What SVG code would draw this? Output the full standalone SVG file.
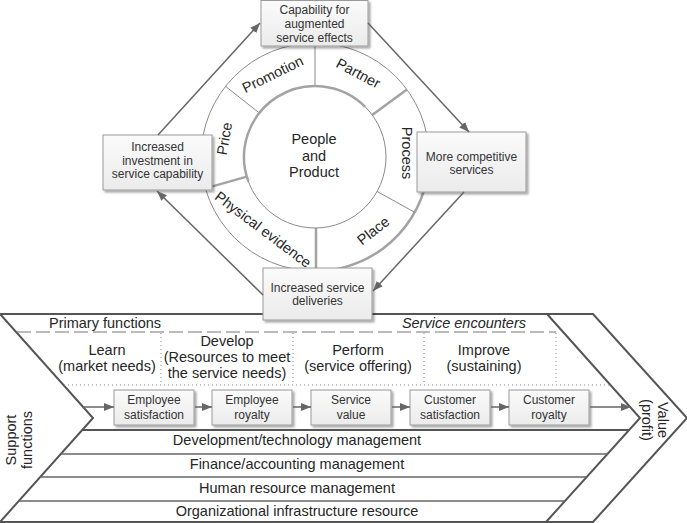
<svg xmlns="http://www.w3.org/2000/svg" width="687" height="523" viewBox="0 0 687 523">
<defs>
<style>
text { font-family: "Liberation Sans", Arial, sans-serif; fill: #262626; }
.bx { font-size: 12px; text-anchor: middle; fill: #333; }
.lg { font-size: 14.5px; text-anchor: middle; }
.box { fill: url(#g); stroke: #9a9a9a; stroke-width: 1; filter: url(#sh); }
.conn { stroke: #666; stroke-width: 1.5; fill: none; marker-end: url(#ah); }
.ring { stroke: #8a8a8a; stroke-width: 1; }
.thin { stroke: #8a8a8a; stroke-width: 1; fill: none; }
.thick { stroke: #a3a3a3; stroke-width: 2.5; fill: none; }
.ch { fill: none; stroke: #555; stroke-width: 2; }
.band { stroke: #666; stroke-width: 1.4; }
.dash { stroke: #777; stroke-width: 1.2; stroke-dasharray: 14 5; }
.dot { stroke: #888; stroke-width: 1; stroke-dasharray: 1 3; }
</style>
<linearGradient id="g" x1="0" y1="0" x2="0" y2="1"><stop offset="0" stop-color="#fbfbfb"/><stop offset="1" stop-color="#ebebeb"/></linearGradient>
<filter id="sh" x="-10%" y="-10%" width="130%" height="140%"><feDropShadow dx="2" dy="2" stdDeviation="1" flood-color="#000" flood-opacity="0.35"/></filter>
<marker id="ah" markerWidth="10" markerHeight="8" refX="10" refY="4" orient="auto" markerUnits="userSpaceOnUse"><path d="M0,0 L10,4 L0,8 z" fill="#666"/></marker>
</defs>

<g id="value-chain">
<path class="ch" d="M0,314 L593,314 L687,418 L593,522 L0,522"/>
<path class="ch" d="M0,314 L93,418 L0,522"/>
<path class="ch" d="M547,314 L640,418 L546,522"/>
<line class="ch" x1="82.3" y1="430" x2="629.2" y2="430"/>
<line class="band" x1="60.8" y1="454" x2="607.5" y2="454"/>
<line class="band" x1="40.2" y1="477" x2="586.7" y2="477"/>
<line class="band" x1="18.8" y1="501" x2="565" y2="501"/>
<line class="dash" x1="17" y1="332" x2="556" y2="332"/>
<line class="dot" x1="64" y1="385" x2="609" y2="385"/>
<line class="dot" x1="161" y1="333" x2="161" y2="385"/>
<line class="dot" x1="293" y1="333" x2="293" y2="385"/>
<line class="dot" x1="424" y1="333" x2="424" y2="385"/>
<line class="dot" x1="556" y1="333" x2="556" y2="385"/>
<text x="49" y="328" font-size="14.5">Primary functions</text>
<text x="526" y="328" font-size="14.5" font-style="italic" text-anchor="end">Service encounters</text>
<text class="lg" x="107" y="355">Learn</text>
<text class="lg" x="107" y="371">(market needs)</text>
<text class="lg" x="227" y="346">Develop</text>
<text class="lg" x="227" y="362">(Resources to meet</text>
<text class="lg" x="227" y="378">the service needs)</text>
<text class="lg" x="358" y="355">Perform</text>
<text class="lg" x="358" y="371">(service offering)</text>
<text class="lg" x="484" y="355">Improve</text>
<text class="lg" x="484" y="371">(sustaining)</text>
<text class="lg" x="297" y="445">Development/technology management</text>
<text class="lg" x="297" y="469">Finance/accounting management</text>
<text class="lg" x="297" y="493">Human resource management</text>
<text class="lg" x="297" y="516">Organizational infrastructure resource</text>
<text class="lg" transform="translate(15.5,440) rotate(-90)"><tspan x="0" y="0">Support</tspan><tspan x="0" y="16.5">functions</tspan></text>
<text class="lg" transform="translate(657.5,420) rotate(90)"><tspan x="0" y="0">Value</tspan><tspan x="0" y="16">(profit)</tspan></text>
</g>

<g id="service-chain">
<g id="employee-satisfaction"><rect class="box" x="114" y="390" width="80" height="35"/><text class="bx" x="154" y="404">Employee</text><text class="bx" x="154" y="419">satisfaction</text></g>
<g id="employee-royalty"><rect class="box" x="212" y="390" width="80" height="35"/><text class="bx" x="252" y="404">Employee</text><text class="bx" x="252" y="419">royalty</text></g>
<g id="service-value"><rect class="box" x="311" y="390" width="80" height="35"/><text class="bx" x="351" y="404">Service</text><text class="bx" x="351" y="419">value</text></g>
<g id="customer-satisfaction"><rect class="box" x="410" y="390" width="80" height="35"/><text class="bx" x="450" y="404">Customer</text><text class="bx" x="450" y="419">satisfaction</text></g>
<g id="customer-royalty"><rect class="box" x="509" y="390" width="80" height="35"/><text class="bx" x="549" y="404">Customer</text><text class="bx" x="549" y="419">royalty</text></g>
</g>

<g id="marketing-ring">
<circle cx="315" cy="157" r="114" fill="#fff" class="ring"/>
<path class="thick" d="M426.5,180.7 A114,114 0 0 1 305.1,270.6"/>
<line class="thin" x1="315" y1="86" x2="315" y2="44"/>
<line class="thin" x1="259.3" y1="113" x2="225.5" y2="86.3"/>
<line class="thick" x1="372.2" y1="115" x2="406.9" y2="89.5"/>
<line class="thick" x1="246.8" y1="176.6" x2="205.4" y2="188.4"/>
<line class="thin" x1="377" y1="191.4" x2="414.7" y2="212.3"/>
<line class="thick" x1="316" y1="228" x2="316" y2="271"/>
<circle cx="315" cy="157" r="71" fill="#fff" class="ring"/>
<path class="thick" d="M248.3,181.3 A71,71 0 0 1 365.2,106.8"/>
<text class="lg" x="314" y="144">People</text>
<text class="lg" x="314" y="160.5">and</text>
<text class="lg" x="314" y="177">Product</text>
<text class="lg" transform="translate(274.9,78.8) rotate(-26)">Promotion</text>
<text class="lg" transform="translate(356,77.7) rotate(28)">Partner</text>
<text class="lg" transform="translate(402,153) rotate(90)">Process</text>
<text class="lg" transform="translate(229.4,139.5) rotate(-80)">Price</text>
<text class="lg" transform="translate(376.4,234.6) rotate(-38)">Place</text>
<text class="lg" transform="translate(260,233.5) rotate(37)">Physical evidence</text>
</g>

<g id="capability">
<rect class="box" x="261" y="0.5" width="107" height="45.5"/>
<text class="bx" x="314.5" y="14">Capability for</text>
<text class="bx" x="314.5" y="28">augmented</text>
<text class="bx" x="314.5" y="42">service effects</text>
</g>
<g id="competitive">
<rect class="box" x="417" y="132" width="109" height="60"/>
<text class="bx" x="471.5" y="161">More competitive</text>
<text class="bx" x="471.5" y="174">services</text>
</g>
<g id="deliveries">
<rect class="box" x="263" y="268" width="109" height="52"/>
<text class="bx" x="317.5" y="292">Increased service</text>
<text class="bx" x="317.5" y="305">deliveries</text>
</g>
<g id="investment">
<rect class="box" x="103" y="135" width="109" height="55"/>
<text class="bx" x="157.5" y="151">Increased</text>
<text class="bx" x="157.5" y="164.5">investment in</text>
<text class="bx" x="157.5" y="178">service capability</text>
</g>

<g id="connectors">
<line class="conn" x1="158" y1="135" x2="260" y2="23"/>
<line class="conn" x1="368" y1="23" x2="469" y2="132"/>
<line class="conn" x1="464" y1="192" x2="373" y2="291"/>
<line class="conn" x1="263" y1="295" x2="157" y2="191"/>
<line class="conn" x1="83" y1="407" x2="114" y2="407"/>
<line class="conn" x1="195" y1="407" x2="212" y2="407"/>
<line class="conn" x1="293" y1="407" x2="311" y2="407"/>
<line class="conn" x1="392" y1="407" x2="410" y2="407"/>
<line class="conn" x1="491" y1="407" x2="509" y2="407"/>
<line class="conn" x1="590" y1="407" x2="631" y2="407"/>
</g>
</svg>
